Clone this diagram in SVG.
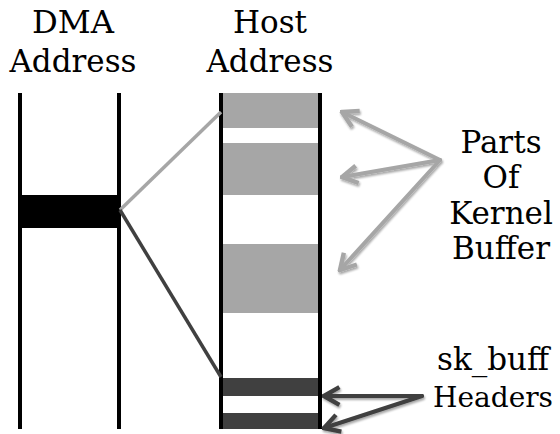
<svg xmlns="http://www.w3.org/2000/svg" width="560" height="434" viewBox="0 0 560 434">
<defs>
<style>
text{font-family:"DejaVu Serif","Liberation Serif",serif;font-size:31px;fill:#000;text-anchor:middle}
.col{stroke:#000;stroke-width:4}
.g{fill:#a6a6a6}
.d{fill:#404040}
.ga{stroke:#a6a6a6;stroke-width:4;fill:none;stroke-linecap:round}
.da{stroke:#404040;stroke-width:4;fill:none;stroke-linecap:round}
</style>
<marker id="mg" viewBox="0 0 10 10" refX="9" refY="5" markerWidth="5.5" markerHeight="5.5" orient="auto-start-reverse" markerUnits="strokeWidth">
<polyline points="2,1 9,5 2,9" fill="none" stroke="#a6a6a6" stroke-width="2" stroke-linejoin="miter"/>
</marker>
<marker id="md" viewBox="0 0 10 10" refX="9" refY="5" markerWidth="5.5" markerHeight="5.5" orient="auto-start-reverse" markerUnits="strokeWidth">
<polyline points="2,1 9,5 2,9" fill="none" stroke="#404040" stroke-width="2" stroke-linejoin="miter"/>
</marker>
<filter id="sh" x="-20%" y="-20%" width="140%" height="140%">
<feGaussianBlur in="SourceAlpha" stdDeviation="1.2"/>
<feOffset dx="1" dy="1.5" result="b"/>
<feComponentTransfer><feFuncA type="linear" slope="0.35"/></feComponentTransfer>
<feMerge><feMergeNode/><feMergeNode in="SourceGraphic"/></feMerge>
</filter>
</defs>
<rect width="560" height="434" fill="#fff"/>
<g id="dma">
<text x="73" y="33" textLength="82" lengthAdjust="spacingAndGlyphs">DMA</text>
<text x="73" y="72">Address</text>
<rect x="19" y="195" width="101" height="33" fill="#000"/>
<line class="col" x1="20" y1="93" x2="20" y2="429"/>
<line class="col" x1="119" y1="93" x2="119" y2="429"/>
</g>
<g id="host">
<text x="270" y="33">Host</text>
<text x="270" y="72">Address</text>
<rect class="g" x="220" y="93" width="101" height="35"/>
<rect class="g" x="220" y="143" width="101" height="52"/>
<rect class="g" x="220" y="244" width="101" height="69"/>
<rect class="d" x="220" y="378" width="101" height="18"/>
<rect class="d" x="220" y="413" width="101" height="16"/>
<line class="col" x1="221" y1="93" x2="221" y2="429"/>
<line class="col" x1="320" y1="93" x2="320" y2="429"/>
</g>
<g id="kernel-label">
<text x="501" y="153">Parts</text>
<text x="501" y="188">Of</text>
<text x="501" y="224">Kernel</text>
<text x="501" y="259">Buffer</text>
</g>
<g id="skbuff-label">
<text x="493" y="370">sk_buff</text>
<text x="493" y="407" style="font-size:28px">Headers</text>
</g>
<g id="connectors">
<line x1="120" y1="210" x2="221" y2="112" stroke="#a6a6a6" stroke-width="3.5"/>
<line x1="120" y1="210" x2="221" y2="377" stroke="#404040" stroke-width="3.5"/>
<g filter="url(#sh)">
<line class="ga" x1="440" y1="160" x2="342" y2="112" marker-end="url(#mg)"/>
<line class="ga" x1="440" y1="160" x2="342" y2="177" marker-end="url(#mg)"/>
<line class="ga" x1="440" y1="160" x2="340" y2="270" marker-end="url(#mg)"/>
<line class="da" x1="422" y1="396" x2="324" y2="396" marker-end="url(#md)"/>
<line class="da" x1="422" y1="396" x2="324" y2="428" marker-end="url(#md)"/>
</g>
</g>
</svg>
